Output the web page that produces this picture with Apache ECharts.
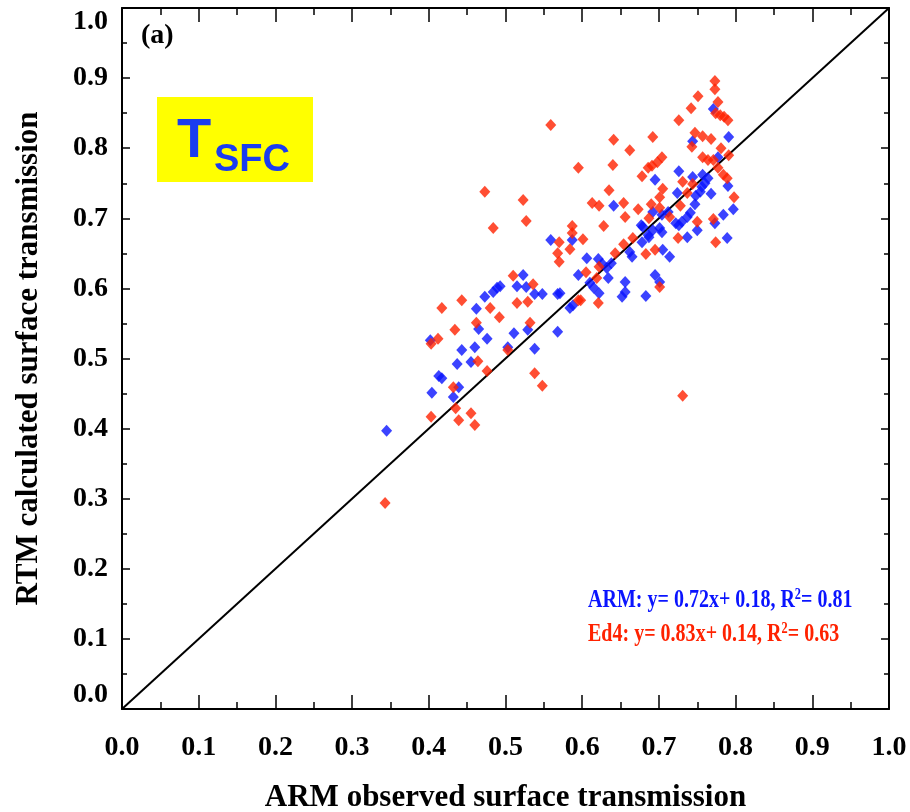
<!DOCTYPE html>
<html><head><meta charset="utf-8">
<script src="https://cdn.jsdelivr.net/npm/echarts@6/dist/echarts.min.js"></script>
<style>html,body{margin:0;padding:0;background:#fff}#c{width:910px;height:812px}</style>
</head><body><div id="c"></div>
<script>
// ARM (blue) points: [observed, calculated]
const armPoints = [
[0.345,0.397],[0.404,0.451],[0.432,0.445],[0.439,0.459],[0.413,0.475],[0.417,0.472],
[0.402,0.526],[0.437,0.492],[0.455,0.495],[0.443,0.512],[0.460,0.516],[0.465,0.542],
[0.476,0.528],[0.462,0.571],[0.473,0.588],[0.484,0.595],[0.489,0.601],[0.493,0.603],
[0.503,0.516],[0.511,0.536],[0.529,0.541],[0.538,0.514],[0.515,0.603],[0.527,0.602],
[0.523,0.619],[0.538,0.592],[0.548,0.592],[0.568,0.592],[0.568,0.538],[0.584,0.572],
[0.588,0.576],[0.559,0.669],[0.587,0.669],[0.571,0.593],[0.595,0.619],[0.606,0.643],
[0.621,0.642],[0.626,0.635],[0.638,0.636],[0.634,0.615],[0.610,0.608],[0.615,0.601],
[0.622,0.593],[0.656,0.609],[0.656,0.595],[0.652,0.588],[0.683,0.589],[0.695,0.619],
[0.701,0.609],[0.641,0.718],[0.662,0.652],[0.665,0.645],[0.678,0.666],[0.686,0.676],
[0.692,0.683],[0.701,0.686],[0.704,0.680],[0.705,0.655],[0.714,0.645],[0.677,0.690],
[0.692,0.709],[0.704,0.705],[0.712,0.709],[0.724,0.736],[0.726,0.690],[0.730,0.695],
[0.737,0.702],[0.741,0.708],[0.737,0.673],[0.750,0.683],[0.748,0.732],[0.747,0.720],
[0.744,0.759],[0.757,0.762],[0.764,0.757],[0.760,0.750],[0.756,0.745],[0.768,0.735],
[0.773,0.693],[0.784,0.705],[0.789,0.672],[0.797,0.713],[0.790,0.746],[0.791,0.816],
[0.771,0.856],[0.744,0.810],[0.726,0.767],[0.695,0.755],[0.777,0.787],[0.687,0.673],
[0.679,0.688],[0.722,0.693],[0.754,0.738],[0.632,0.629]
];
// Ed4 (red) points: [observed, calculated]
const ed4Points = [
[0.343,0.294],[0.403,0.417],[0.435,0.429],[0.439,0.412],[0.455,0.422],[0.460,0.405],
[0.432,0.459],[0.476,0.482],[0.464,0.496],[0.538,0.479],[0.548,0.461],[0.503,0.512],
[0.403,0.521],[0.412,0.528],[0.434,0.541],[0.417,0.572],[0.443,0.583],[0.462,0.551],
[0.480,0.572],[0.492,0.559],[0.532,0.551],[0.515,0.579],[0.529,0.581],[0.510,0.618],
[0.536,0.606],[0.595,0.583],[0.473,0.738],[0.484,0.686],[0.523,0.726],[0.527,0.696],
[0.559,0.833],[0.570,0.666],[0.568,0.650],[0.570,0.638],[0.587,0.689],[0.587,0.679],
[0.584,0.656],[0.601,0.670],[0.605,0.623],[0.619,0.615],[0.622,0.631],[0.628,0.689],
[0.613,0.722],[0.622,0.718],[0.635,0.740],[0.595,0.772],[0.640,0.776],[0.641,0.812],
[0.654,0.722],[0.656,0.702],[0.673,0.713],[0.690,0.720],[0.701,0.715],[0.666,0.672],
[0.654,0.663],[0.643,0.650],[0.683,0.649],[0.695,0.655],[0.701,0.602],[0.598,0.583],
[0.621,0.579],[0.678,0.760],[0.686,0.772],[0.691,0.775],[0.698,0.780],[0.704,0.787],
[0.662,0.797],[0.692,0.816],[0.705,0.742],[0.701,0.730],[0.714,0.702],[0.725,0.672],
[0.728,0.718],[0.731,0.752],[0.737,0.736],[0.744,0.749],[0.750,0.695],[0.771,0.699],
[0.774,0.666],[0.798,0.730],[0.757,0.787],[0.764,0.783],[0.771,0.783],[0.777,0.772],
[0.784,0.762],[0.789,0.757],[0.781,0.800],[0.791,0.790],[0.743,0.802],[0.747,0.822],
[0.757,0.817],[0.768,0.813],[0.726,0.840],[0.742,0.857],[0.751,0.874],[0.773,0.896],
[0.773,0.884],[0.777,0.866],[0.774,0.850],[0.780,0.847],[0.785,0.845],[0.790,0.840],
[0.731,0.447],[0.687,0.700]
];
const oneToOne = [[0,0],[1,1]];
const axisMin = 0, axisMax = 1, axisInterval = 0.1;
const xTitle = 'ARM observed surface transmission';
const yTitle = 'RTM calculated surface transmission';
const armFit = {name:'ARM', slope:'0.72', intercept:'0.18', r2:'0.81'};
const ed4Fit = {name:'Ed4', slope:'0.83', intercept:'0.14', r2:'0.63'};
const panelTag = '(a)';

const SERIF = '"Liberation Serif","Times New Roman",serif';
const BLUE = '#0a14ff', RED = '#ff2200';
const lbl = {fontFamily:SERIF, fontWeight:'bold', fontSize:28, color:'#000'};
const ttl = {fontFamily:SERIF, fontWeight:'bold', fontSize:31, color:'#000'};
function xAx(pos, show){
  return {type:'value', position:pos, min:axisMin, max:axisMax, interval:axisInterval,
    axisLine:{show:true, onZero:false, lineStyle:{color:'#000', width:2}},
    axisTick:{show:true, inside:true, length:14, lineStyle:{color:'#000', width:1.5}},
    minorTick:{show:true, splitNumber:2, length:7, lineStyle:{color:'#000', width:1.5}},
    splitLine:{show:false},
    axisLabel:Object.assign({show:show, margin:25, formatter:v=>v.toFixed(1)}, lbl),
    name: show?xTitle:'', nameLocation:'middle', nameGap:73, nameTextStyle:ttl};
}
function yAx(pos, show){
  return {type:'value', position:pos, min:axisMin, max:axisMax, interval:axisInterval,
    axisLine:{show:true, onZero:false, lineStyle:{color:'#000', width:2}},
    axisTick:{show:true, inside:true, length:8, lineStyle:{color:'#000', width:1.5}},
    minorTick:{show:true, splitNumber:2, length:5, lineStyle:{color:'#000', width:1.5}},
    splitLine:{show:false},
    axisLabel:Object.assign({show:show, margin:14, formatter:v=>v.toFixed(1),
      verticalAlignMaxLabel:'top', verticalAlignMinLabel:'bottom'}, lbl),
    name: show?yTitle:'', nameLocation:'middle', nameGap:78, nameTextStyle:ttl};
}
const chart = echarts.init(document.getElementById('c'), null, {renderer:'canvas'});
function eq(f){ return f.name+': y= '+f.slope+'x+ '+f.intercept+', R{s|2}= '+f.r2; }
function eqText(f, color, y){
  return {type:'text', x:588, y:y, scaleX:0.77, scaleY:1,
    style:{text:eq(f), fill:color, font:'bold 26px '+SERIF,
      rich:{s:{fontSize:16, fontWeight:'bold', fontFamily:SERIF, fill:color, verticalAlign:'top', padding:[0,0,10,0]}}}};
}
chart.setOption({
  backgroundColor:'#fff',
  animation:false,
  grid:{left:122, right:21, top:8, bottom:103, containLabel:false, outerBoundsMode:'none'},
  xAxis:[xAx('bottom', true), xAx('top', false)],
  yAxis:[yAx('left', true), yAx('right', false)],
  series:[
    {type:'line', data:oneToOne, symbol:'none', lineStyle:{color:'#000', width:2}, z:1},
    {type:'scatter', data:armPoints, symbol:'diamond', symbolSize:[11,12], itemStyle:{color:BLUE}, z:2},
    {type:'scatter', data:ed4Points, symbol:'diamond', symbolSize:[11,12], itemStyle:{color:RED}, z:3}
  ],
  graphic:[
    {type:'text', x:141, y:22, style:{text:panelTag, font:'bold 28px '+SERIF, fill:'#000'}},
    {type:'rect', shape:{x:157, y:97, width:156, height:85}, style:{fill:'#ffff00'}},
    {type:'text', x:177, y:114, style:{text:'T', font:'bold 56px "Liberation Sans",Arial,sans-serif', fill:'#1a3cf0'}},
    {type:'text', x:214, y:142, style:{text:'SFC', font:'bold 38px "Liberation Sans",Arial,sans-serif', fill:'#1a3cf0'}},
    eqText(armFit, BLUE, 587),
    eqText(ed4Fit, RED, 621)
  ]
});
</script></body></html>
